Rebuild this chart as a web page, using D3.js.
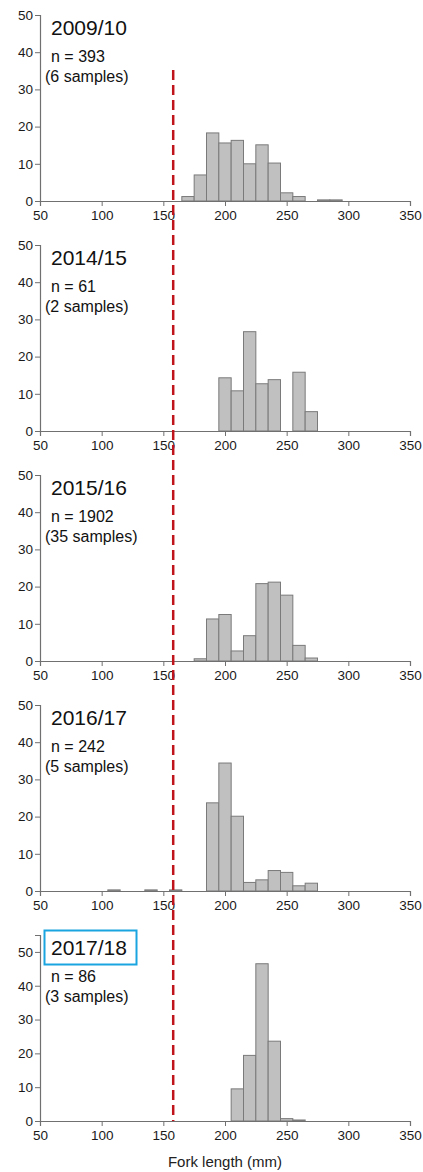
<!DOCTYPE html>
<html><head><meta charset="utf-8">
<script src="https://cdn.jsdelivr.net/npm/d3@7"></script>
<style>
html,body{margin:0;padding:0;background:#fff;}
svg{display:block;font-family:"Liberation Sans",Arial,sans-serif;}
</style></head>
<body>
<svg id="chart" width="423" height="1172"></svg>
<script>
// Bin lower edges (mm), bin width 10 mm
const binWidth = 10;
const edges2009 = [165,175,185,195,205,215,225,235,245,255,265,275,285];
const vals2009  = [1.2,7.0,18.3,15.6,16.3,10.0,15.1,10.2,2.2,1.2,0,0.3,0.3];
const edges2014 = [195,205,215,225,235,245,255,265];
const vals2014  = [14.3,10.8,26.7,12.7,13.8,0,15.8,5.2];
const edges2015 = [175,185,195,205,215,225,235,245,255,265];
const vals2015  = [0.6,11.3,12.5,2.7,6.8,20.8,21.2,17.7,4.2,0.8];
const edges2016 = [105,135,155,185,195,205,215,225,235,245,255,265];
const vals2016  = [0.3,0.3,0.3,23.7,34.4,20.1,2.3,3.0,5.5,5.0,1.4,2.1];
const edges2017 = [205,215,225,235,245,255];
const vals2017  = [9.5,19.4,46.5,23.6,0.7,0.3];

const seasons = ["2009/10","2014/15","2015/16","2016/17","2017/18"];
const nLabels = ["n = 393","n = 61","n = 1902","n = 242","n = 86"];
const sampleLabels = ["(6 samples)","(2 samples)","(35 samples)","(5 samples)","(3 samples)"];
const yMaxes = [50,50,50,50,55];
const xTicks = [50,100,150,200,250,300,350];
const yTicks = [0,10,20,30,40,50];
const cutoff = 158;
const xLabel = "Fork length (mm)";

const panels = [
  {e:edges2009,v:vals2009},{e:edges2014,v:vals2014},{e:edges2015,v:vals2015},
  {e:edges2016,v:vals2016},{e:edges2017,v:vals2017}
];

const svg = d3.select("#chart");
const x = d3.scaleLinear().domain([50,350]).range([40,410]);
const panelTop = 15, panelBase = 201, step = 230;

panels.forEach((p,i)=>{
  const off = i*step;
  const y = d3.scaleLinear().domain([0,yMaxes[i]]).range([off+panelBase, off+panelTop]);
  const g = svg.append("g");
  const data = p.e.map((e,j)=>({x0:e,v:p.v[j]})).filter(d=>d.v>0);
  g.selectAll("rect").data(data).join("rect")
    .attr("x",d=>x(d.x0)).attr("width",d=>x(d.x0+binWidth)-x(d.x0))
    .attr("y",d=>y(d.v)).attr("height",d=>y(0)-y(d.v))
    .attr("fill","#c0c0c0").attr("stroke","#7a7a7a").attr("stroke-width",1);

  // x axis
  const xa = g.append("g").attr("transform",`translate(0,${y(0)})`);
  xa.call(d3.axisBottom(x).tickValues(d3.range(50,351,10)).tickSize(3).tickFormat(""));
  xa.call(d3.axisBottom(x).tickValues(xTicks).tickSize(5).tickFormat(d3.format("d")));
  xa.selectAll(".domain").attr("stroke","#707070").attr("stroke-width",1.2);
  xa.selectAll("line").attr("stroke","#707070");
  xa.selectAll("text").attr("font-size",13.5).attr("fill","#1a1a1a").attr("dy","0.85em");

  // y axis
  const ya = g.append("g").attr("transform","translate(40,0)");
  const minor = d3.range(0,yMaxes[i]+0.1,5);
  ya.call(d3.axisLeft(y).tickValues(minor).tickSize(3).tickFormat(""));
  ya.call(d3.axisLeft(y).tickValues(yTicks).tickSize(5).tickFormat(d3.format("d")));
  ya.selectAll(".domain").attr("stroke","#707070").attr("stroke-width",1.2);
  ya.selectAll("line").attr("stroke","#707070");
  ya.selectAll("text").attr("font-size",13.5).attr("fill","#1a1a1a").attr("x",-7);

  // labels
  g.append("text").attr("x",51).attr("y",off+35).attr("font-size",21).attr("fill","#111").text(seasons[i]);
  g.append("text").attr("x",51).attr("y",off+62).attr("font-size",16).attr("fill","#111").text(nLabels[i]);
  g.append("text").attr("x",45).attr("y",off+82).attr("font-size",16).attr("fill","#111").text(sampleLabels[i]);
  if(i===4){
    g.append("rect").attr("x",44.5).attr("y",off+10.5).attr("width",92).attr("height",34)
      .attr("fill","none").attr("stroke","#1ba5e0").attr("stroke-width",2);
  }
});

// cutoff dashed line spanning all panels
svg.append("line").attr("x1",x(cutoff)).attr("x2",x(cutoff))
  .attr("y1",70).attr("y2",4*step+panelBase)
  .attr("stroke","#c0141c").attr("stroke-width",2.5).attr("stroke-dasharray","10,5");

svg.append("text").attr("x",225).attr("y",1167).attr("text-anchor","middle")
  .attr("font-size",15).attr("fill","#222").text(xLabel);
</script>
</body></html>
